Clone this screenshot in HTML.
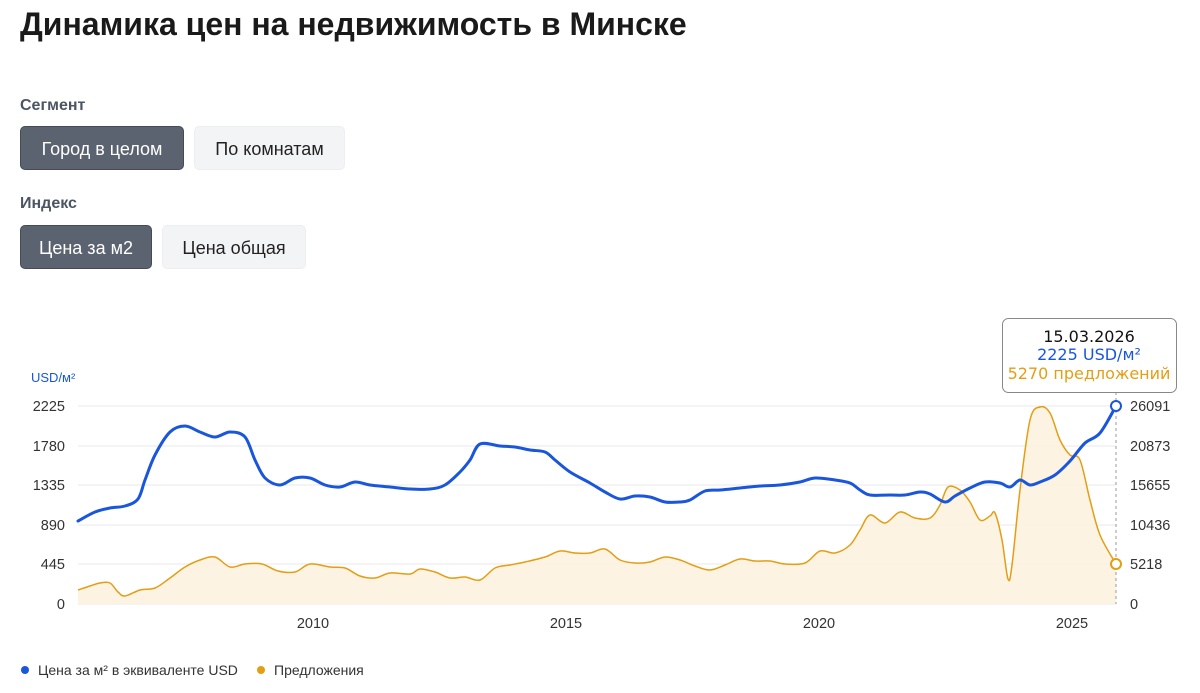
<!DOCTYPE html>
<html><head><meta charset="utf-8"><style>
body{margin:0;width:1200px;height:693px;background:#fff;font-family:"Liberation Sans","DejaVu Sans",sans-serif;position:relative;overflow:hidden}
h1{position:absolute;left:20px;top:6px;margin:0;font-size:32px;font-weight:bold;color:#1a1a1a}
.lab{position:absolute;left:20px;font-size:16px;font-weight:bold;color:#4b5563}
.btn{position:absolute;height:44px;line-height:44px;text-align:center;font-size:18px;border-radius:5px;box-sizing:border-box}
.on{background:#5b6270;color:#fff;border:1px solid #444b57}
.off{background:#f3f4f6;color:#222;border:1px solid #eceef1}
</style></head><body>
<h1>Динамика цен на недвижимость в Минске</h1>
<div class="lab" style="top:97px">Сегмент</div>
<div class="btn on" style="left:20px;top:126px;width:164px">Город в целом</div>
<div class="btn off" style="left:194px;top:126px;width:151px">По комнатам</div>
<div class="lab" style="top:195px">Индекс</div>
<div class="btn on" style="left:20px;top:225px;width:132px">Цена за м2</div>
<div class="btn off" style="left:162px;top:225px;width:144px">Цена общая</div>
<svg width="1200" height="693" style="position:absolute;left:0;top:0" font-family="Liberation Sans, DejaVu Sans, sans-serif">
<g stroke="#e9e9ec" stroke-width="1">
<line x1="78" x2="1116" y1="406" y2="406"/><line x1="78" x2="1116" y1="446" y2="446"/><line x1="78" x2="1116" y1="485" y2="485"/><line x1="78" x2="1116" y1="525" y2="525"/><line x1="78" x2="1116" y1="564" y2="564"/><line x1="78" x2="1116" y1="604" y2="604"/>
</g>
<text x="31" y="382" font-size="13" fill="#1a56db">USD/м²</text>
<g font-size="14.5" fill="#333" text-anchor="end">
<text x="65" y="411">2225</text><text x="65" y="451">1780</text><text x="65" y="490">1335</text><text x="65" y="530">890</text><text x="65" y="569">445</text><text x="65" y="609">0</text>
</g>
<g font-size="14.5" fill="#333">
<text x="1130" y="411">26091</text><text x="1130" y="451">20873</text><text x="1130" y="490">15655</text><text x="1130" y="530">10436</text><text x="1130" y="569">5218</text><text x="1130" y="609">0</text>
</g>
<g font-size="14.5" fill="#333" text-anchor="middle">
<text x="313" y="628">2010</text><text x="566" y="628">2015</text><text x="819" y="628">2020</text><text x="1072" y="628">2025</text>
</g>
<path id="oa" fill="#fdf1de" opacity="0.85" d=""/>
<path id="ol" fill="none" stroke="#e39e14" stroke-width="1.5" d=""/>
<path id="bl" fill="none" stroke="#1a56db" stroke-width="3" stroke-linecap="round" d=""/>
<line x1="1116" x2="1116" y1="392" y2="604" stroke="#999" stroke-dasharray="3,3"/>
<circle cx="1116" cy="406" r="5" fill="#fff" stroke="#1a56db" stroke-width="2"/>
<circle cx="1116" cy="564" r="5" fill="#fff" stroke="#e39e14" stroke-width="2"/>
<rect x="1002.5" y="318.5" width="174" height="74" rx="6" fill="#fff" stroke="#888"/>
<g font-size="16" text-anchor="middle" font-family="DejaVu Sans, sans-serif">
<text x="1089" y="342" fill="#111">15.03.2026</text>
<text x="1089" y="360" fill="#1a56db">2225 USD/м²</text>
<text x="1089" y="379" fill="#e39e14">5270 предложений</text>
</g>
<circle cx="25" cy="670" r="4" fill="#1a56db"/>
<text x="38" y="675" font-size="14" fill="#333">Цена за м² в эквиваленте USD</text>
<circle cx="261" cy="670" r="4" fill="#e39e14"/>
<text x="274" y="675" font-size="14" fill="#333">Предложения</text>
</svg>
<script>
function sm(s){var p=s.trim().split(/\s+/).map(function(a){return a.split(',').map(Number)});
var d='M'+p[0][0]+','+p[0][1];
for(var i=0;i<p.length-1;i++){var p0=p[i-1]||p[i],p1=p[i],p2=p[i+1],p3=p[i+2]||p2;
var c1x=p1[0]+(p2[0]-p0[0])/6,c1y=p1[1]+(p2[1]-p0[1])/6,c2x=p2[0]-(p3[0]-p1[0])/6,c2y=p2[1]-(p3[1]-p1[1])/6;
d+=' C'+c1x+','+c1y+' '+c2x+','+c2y+' '+p2[0]+','+p2[1];}return d;}
var O="78,590 90,586 100,583 110,583 118,592 125,596 140,590 155,588 170,578 185,567 200,560 215,557 230,567 245,564 262,564 278,571 295,572 310,564 330,567 345,568 360,576 375,578 390,573 410,574 420,569 435,572 450,578 465,577 480,580 495,568 510,565 525,562 545,557 560,551 575,553 590,553 605,549 620,560 635,563 650,562 665,557 680,560 695,566 710,570 725,565 740,559 755,561 770,561 785,564 805,563 820,551 835,553 850,545 860,530 870,515 885,523 900,512 915,518 930,518 940,505 948,487 960,490 970,502 980,520 990,516 995,513 1002,540 1008,579 1012,565 1020,490 1030,420 1040,407 1050,413 1060,440 1070,455 1080,460 1090,500 1100,535 1116,564";
var B="78,521 95,512 110,508 125,506 138,499 145,480 155,455 170,432 185,426 200,432 215,437 230,432 245,437 255,460 265,478 280,485 295,478 310,478 325,485 340,487 355,482 370,485 390,487 410,489 430,489 445,485 460,472 470,460 480,444 500,446 515,447 530,450 545,452 555,460 570,472 590,483 605,492 620,499 635,496 650,497 665,502 680,502 690,500 705,491 720,490 740,488 760,486 780,485 800,482 815,478 835,480 850,483 860,490 870,495 890,495 905,495 920,492 930,494 945,502 955,496 970,488 985,482 1000,483 1010,487 1020,480 1030,485 1040,482 1055,475 1070,461 1085,443 1100,433 1116,406";
var od=sm(O);
document.getElementById('ol').setAttribute('d',od);
document.getElementById('oa').setAttribute('d',od+' L1116,604 L78,604 Z');
document.getElementById('bl').setAttribute('d',sm(B));
</script>
</body></html>
